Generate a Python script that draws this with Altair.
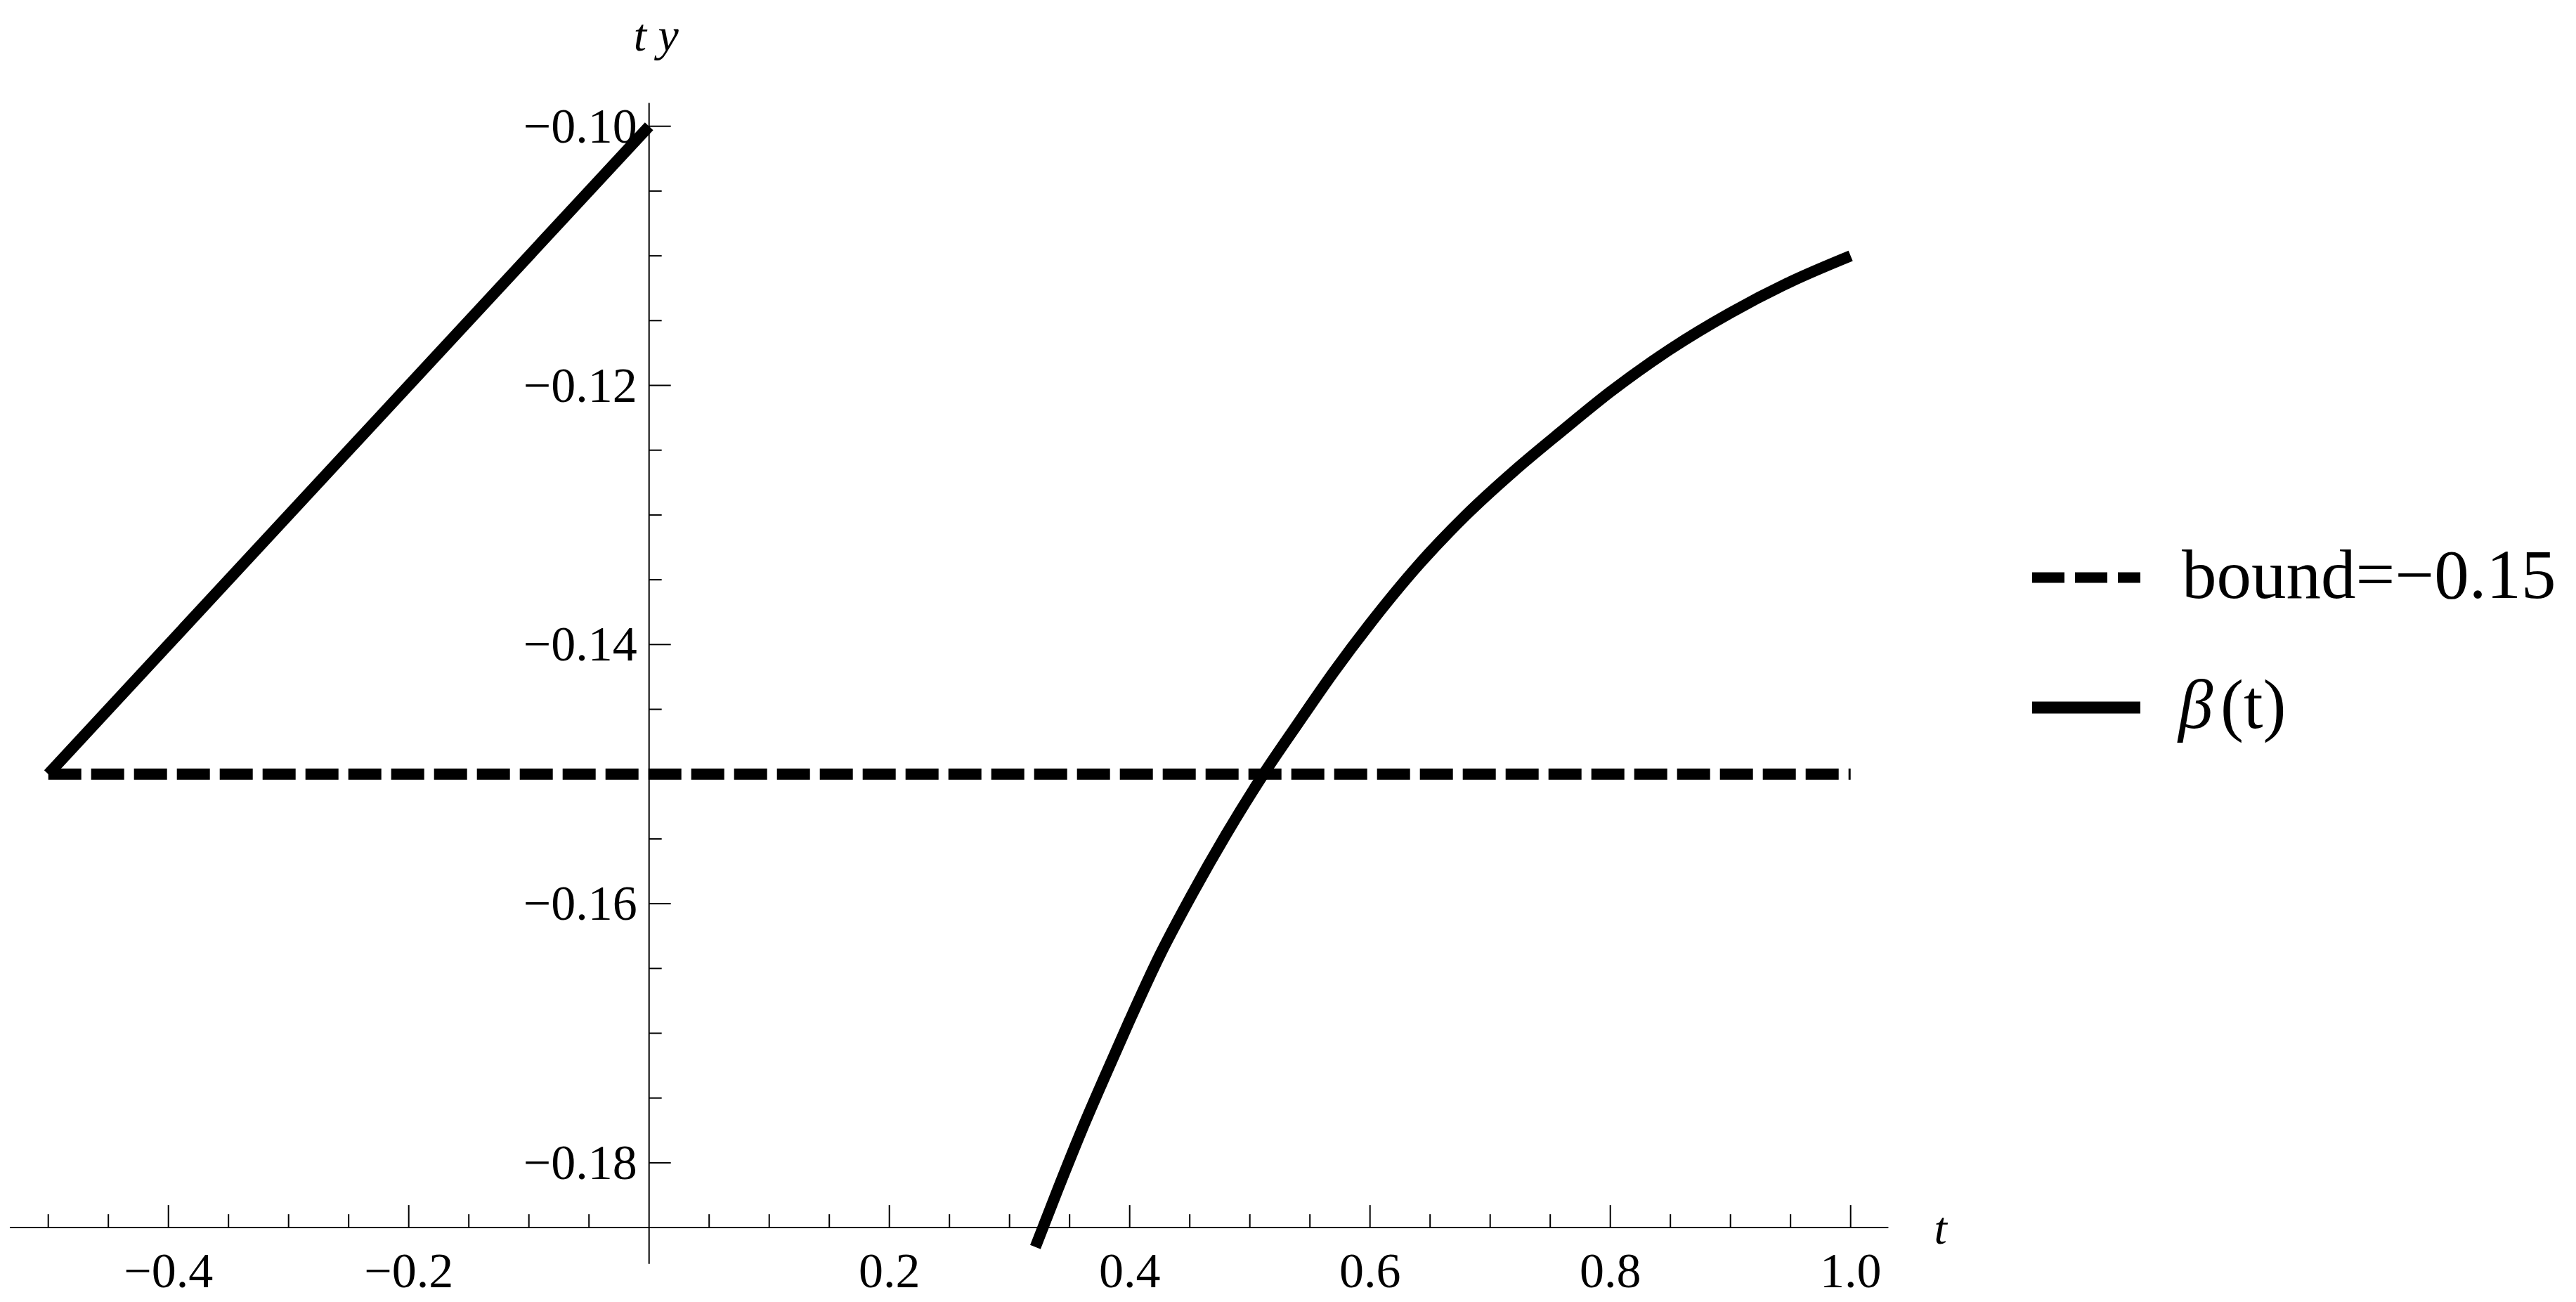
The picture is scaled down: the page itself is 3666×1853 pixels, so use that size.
import altair as alt
import pandas as pd

# ---------------- data ----------------
beta_lin_t = [-0.5, 0.0]
beta_lin_y = [-0.15, -0.10]

beta_t = [0.3215, 0.34, 0.36, 0.38, 0.40, 0.425, 0.45, 0.48, 0.51, 0.54, 0.57,
          0.60, 0.64, 0.68, 0.72, 0.76, 0.80, 0.85, 0.90, 0.95, 1.00]
beta_y = [-0.1865, -0.1821, -0.1775, -0.1732, -0.1690, -0.1640, -0.1596, -0.1547,
          -0.1502, -0.1461, -0.1421, -0.1384, -0.1339, -0.1300, -0.1266, -0.1235,
          -0.1205, -0.1172, -0.1144, -0.1120, -0.1100]

bound_t = [-0.5, 1.0]
bound_y = [-0.15, -0.15]

x_major = [-0.4, -0.2, 0.2, 0.4, 0.6, 0.8, 1.0]
x_labels = ["\u22120.4", "\u22120.2", "0.2", "0.4", "0.6", "0.8", "1.0"]
x_minor = [-0.5, -0.45, -0.35, -0.3, -0.25, -0.15, -0.1, -0.05, 0.05, 0.1, 0.15,
           0.25, 0.3, 0.35, 0.45, 0.5, 0.55, 0.65, 0.7, 0.75, 0.85, 0.9, 0.95]

y_major = [-0.10, -0.12, -0.14, -0.16, -0.18]
y_labels = ["\u22120.10", "\u22120.12", "\u22120.14", "\u22120.16", "\u22120.18"]
y_minor = [-0.105, -0.11, -0.115, -0.125, -0.13, -0.135, -0.145, -0.15, -0.155,
           -0.165, -0.17, -0.175]

x_axis_extent = [-0.532, 1.0314]
x_axis_level = -0.185
y_axis_extent = [-0.0982, -0.1878]

legend_labels = ["bound=\u22120.15", "\u03b2", "(t)"]

# ---------------- layout ----------------
W, H = 3645, 1845
T0_PX = 915.7          # view x of t = 0
PX_PER_T = 1710.0
YM10_PX = 171.7        # view y of y = -0.10
PX_PER_Y = 18440.0

x_dom = [-T0_PX / PX_PER_T, (W - T0_PX) / PX_PER_T]
y_dom = [-0.10 - (H - YM10_PX) / PX_PER_Y, -0.10 + YM10_PX / PX_PER_Y]

xs = alt.Scale(domain=x_dom, nice=False, zero=False)
ys = alt.Scale(domain=y_dom, nice=False, zero=False)

FONT = "Liberation Serif"
LW = 16
AXW = 2


def X(field=None, datum=None):
    if datum is not None:
        return alt.X(datum=datum, type="quantitative", scale=xs, axis=None)
    return alt.X(field, type="quantitative", scale=xs, axis=None)


def Y(field=None, datum=None):
    if datum is not None:
        return alt.Y(datum=datum, type="quantitative", scale=ys, axis=None)
    return alt.Y(field, type="quantitative", scale=ys, axis=None)


# axes lines
xaxis_df = pd.DataFrame({"t0": [x_axis_extent[0]], "t1": [x_axis_extent[1]], "y": [x_axis_level]})
xaxis = alt.Chart(xaxis_df).mark_rule(color="black", strokeWidth=AXW).encode(
    x=X("t0"), x2=alt.X2("t1"), y=Y("y"))

yaxis_df = pd.DataFrame({"y0": [y_axis_extent[0]], "y1": [y_axis_extent[1]]})
yaxis = alt.Chart(yaxis_df).mark_rule(color="black", strokeWidth=AXW).encode(
    x=X(datum=0), y=Y("y0"), y2=alt.Y2("y1"))

# ticks
xmaj_df = pd.DataFrame({"v": x_major, "label": x_labels})
xmin_df = pd.DataFrame({"v": x_minor})
ymaj_df = pd.DataFrame({"v": y_major, "label": y_labels})
ymin_df = pd.DataFrame({"v": y_minor})

xmaj_ticks = alt.Chart(xmaj_df).mark_rule(color="black", strokeWidth=AXW, y2Offset=-32).encode(
    x=X("v"), y=Y(datum=x_axis_level), y2=alt.Y2(datum=x_axis_level))
xmin_ticks = alt.Chart(xmin_df).mark_rule(color="black", strokeWidth=AXW, y2Offset=-19).encode(
    x=X("v"), y=Y(datum=x_axis_level), y2=alt.Y2(datum=x_axis_level))
ymaj_ticks = alt.Chart(ymaj_df).mark_rule(color="black", strokeWidth=AXW, x2Offset=31).encode(
    y=Y("v"), x=X(datum=0), x2=alt.X2(datum=0))
ymin_ticks = alt.Chart(ymin_df).mark_rule(color="black", strokeWidth=AXW, x2Offset=18).encode(
    y=Y("v"), x=X(datum=0), x2=alt.X2(datum=0))

# tick labels
xlab = alt.Chart(xmaj_df).mark_text(font=FONT, fontSize=70, align="center",
                                    baseline="alphabetic", dy=85, color="black").encode(
    x=X("v"), y=Y(datum=x_axis_level), text="label:N")
ylab = alt.Chart(ymaj_df).mark_text(font=FONT, fontSize=70, align="right",
                                    baseline="alphabetic", dx=-17, dy=23, color="black").encode(
    x=X(datum=0), y=Y("v"), text="label:N")

# axis titles
ytitle = alt.Chart(pd.DataFrame({"s": ["t y"]})).mark_text(
    font=FONT, fontSize=66, fontStyle="italic", align="left", baseline="alphabetic",
    dx=-22, dy=-75, color="black").encode(
    x=X(datum=0), y=Y(datum=y_axis_extent[0]), text="s:N")
xtitle = alt.Chart(pd.DataFrame({"s": ["t"]})).mark_text(
    font=FONT, fontSize=66, fontStyle="italic", align="left", baseline="alphabetic",
    dx=65, dy=23, color="black").encode(
    x=X(datum=x_axis_extent[1]), y=Y(datum=x_axis_level), text="s:N")

# data lines
bound_df = pd.DataFrame({"t": bound_t, "y": bound_y})
bound_line = alt.Chart(bound_df).mark_line(color="black", strokeWidth=LW,
                                           strokeDash=[47, 14], strokeCap="butt").encode(
    x=X("t"), y=Y("y"))

lin_df = pd.DataFrame({"t": beta_lin_t, "y": beta_lin_y})
lin_line = alt.Chart(lin_df).mark_line(color="black", strokeWidth=LW, strokeCap="butt").encode(
    x=X("t"), y=Y("y"))

beta_df = pd.DataFrame({"t": beta_t, "y": beta_y})
beta_line = alt.Chart(beta_df).mark_line(color="black", strokeWidth=LW, strokeCap="butt",
                                         interpolate="monotone").encode(
    x=X("t"), y=Y("y"))

# legend
one = pd.DataFrame({"k": [0]})
leg_dash = alt.Chart(one).mark_rule(color="black", strokeWidth=15, strokeDash=[46, 15]).encode(
    x=alt.value(2884), x2=alt.value(3038), y=alt.value(814))
leg_solid = alt.Chart(one).mark_rule(color="black", strokeWidth=17).encode(
    x=alt.value(2884), x2=alt.value(3038), y=alt.value(999))
leg_t1 = alt.Chart(pd.DataFrame({"s": [legend_labels[0]]})).mark_text(
    font=FONT, fontSize=99, align="left", baseline="alphabetic", color="black").encode(
    x=alt.value(3097), y=alt.value(843), text="s:N")
leg_t2 = alt.Chart(pd.DataFrame({"s": [legend_labels[1]]})).mark_text(
    font=FONT, fontSize=99, fontStyle="italic", align="left", baseline="alphabetic", color="black").encode(
    x=alt.value(3092), y=alt.value(1028), text="s:N")
leg_t3 = alt.Chart(pd.DataFrame({"s": [legend_labels[2]]})).mark_text(
    font=FONT, fontSize=99, align="left", baseline="alphabetic", color="black").encode(
    x=alt.value(3152), y=alt.value(1028), text="s:N")

chart = alt.layer(
    xaxis, yaxis, xmaj_ticks, xmin_ticks, ymaj_ticks, ymin_ticks,
    xlab, ylab, ytitle, xtitle,
    bound_line, lin_line, beta_line,
    leg_dash, leg_solid, leg_t1, leg_t2, leg_t3,
).properties(
    width=W, height=H,
    autosize=alt.AutoSizeParams(type="none"),
    padding=0,
    background="white",
).configure_view(stroke=None)

chart.save("out.html", embed_options={"renderer": "svg", "actions": False})
